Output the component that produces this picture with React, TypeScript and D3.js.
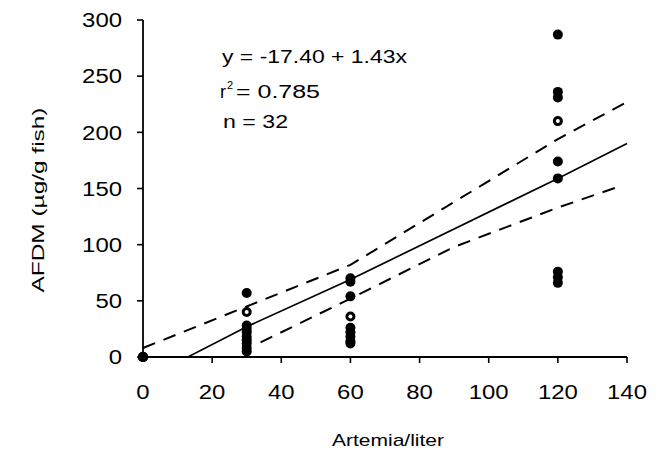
import React from "react";
import * as d3 from "d3";

// ---- data ----
const xTicks = [0, 20, 40, 60, 80, 100, 120, 140];
const yTicks = [0, 50, 100, 150, 200, 250, 300];

const pointX = [0, 0, 0, 0,
  30, 30, 30, 30, 30, 30, 30, 30, 30, 30,
  60, 60, 60, 60, 60, 60, 60, 60, 60,
  120, 120, 120, 120, 120, 120, 120, 120, 120];
const pointY = [0, 0, 0, 0,
  57, 40, 28, 25, 22, 18, 15, 12, 8, 5,
  70, 67, 54, 36, 26, 22, 18, 14, 12,
  287, 236, 231, 210, 174, 159, 76, 71, 66];
const pointHollow = [0, 0, 0, 0,
  0, 1, 0, 0, 0, 0, 0, 0, 0, 0,
  0, 0, 0, 1, 0, 0, 0, 0, 0,
  0, 0, 0, 1, 0, 0, 0, 0, 0];

const fitX = [0, 13, 30, 60, 120, 140];
const fitY = [0, 0, 27, 69, 159, 190];
const upperX = [0, 30, 60, 90, 120, 140];
const upperY = [8, 45, 82, 138, 194, 227];
const lowerX = [34, 60, 90, 120, 137];
const lowerY = [13, 52, 98, 133, 151];

const eqText = "y = -17.40 + 1.43x";
const r2Text = "= 0.785";
const nText = "n = 32";
const xTitle = "Artemia/liter";
const yTitle = "AFDM (µg/g fish)";

export default function App() {
  const W = 664, H = 452;
  const x = d3.scaleLinear().domain([0, 140]).range([143, 627]);
  const y = d3.scaleLinear().domain([0, 300]).range([357, 20]);
  const line = d3.line<[number, number]>().x(d => x(d[0])).y(d => y(d[1]));
  const fit = line(fitX.map((v, i) => [v, fitY[i]]))!;
  const up = line(upperX.map((v, i) => [v, upperY[i]]))!;
  const lo = line(lowerX.map((v, i) => [v, lowerY[i]]))!;
  const font = "'Liberation Sans', Arial, Helvetica, sans-serif";
  const digitW = 13.3;

  return (
    <svg width={W} height={H} style={{ position: "absolute", left: 0, top: 0, background: "#fff" }}
      fontFamily={font}>
      <rect x={0} y={0} width={W} height={H} fill="#fff" />
      {/* axes */}
      <line x1={x(0)} x2={x(0)} y1={y(0)} y2={y(300)} stroke="#000" strokeWidth={1.8} />
      <line x1={x(0)} x2={x(140)} y1={y(0)} y2={y(0)} stroke="#000" strokeWidth={1.8} />
      {yTicks.map(t => (
        <g key={"y" + t}>
          <line x1={x(0) - 6} x2={x(0)} y1={y(t)} y2={y(t)} stroke="#000" strokeWidth={1.6} />
          <text x={122} y={y(t)} dy="0.36em" textAnchor="end" fontSize={20}
            textLength={String(t).length * digitW} lengthAdjust="spacingAndGlyphs">{t}</text>
        </g>
      ))}
      {xTicks.map(t => (
        <g key={"x" + t}>
          {t > 0 && <line x1={x(t)} x2={x(t)} y1={y(0)} y2={y(0) + 6} stroke="#000" strokeWidth={1.6} />}
          <text x={x(t)} y={399} textAnchor="middle" fontSize={20}
            textLength={String(t).length * digitW} lengthAdjust="spacingAndGlyphs">{t}</text>
        </g>
      ))}
      {/* regression and confidence lines */}
      <path d={fit} fill="none" stroke="#000" strokeWidth={1.7} />
      <path d={up} fill="none" stroke="#000" strokeWidth={2} strokeDasharray="13 9" />
      <path d={lo} fill="none" stroke="#000" strokeWidth={2} strokeDasharray="13 9" />
      {/* points */}
      {pointX.map((px, i) => (
        <g key={"p" + i}>
          <circle cx={x(px)} cy={y(pointY[i])} r={5} fill="#000" />
          {pointHollow[i] ? <circle cx={x(px)} cy={y(pointY[i])} r={2} fill="#fff" /> : null}
        </g>
      ))}
      {/* equation text */}
      <text x={222} y={63} fontSize={18} textLength={185} lengthAdjust="spacingAndGlyphs">{eqText}</text>
      <text x={220} y={98} fontSize={18}>r</text>
      <text x={227} y={89} fontSize={11}>2</text>
      <text x={236} y={98} fontSize={18} textLength={84} lengthAdjust="spacingAndGlyphs">{r2Text}</text>
      <text x={223} y={128} fontSize={18} textLength={65} lengthAdjust="spacingAndGlyphs">{nText}</text>
      {/* axis titles */}
      <text x={388} y={446} textAnchor="middle" fontSize={17}
        textLength={112} lengthAdjust="spacingAndGlyphs">{xTitle}</text>
      <text transform={`translate(44,${200}) rotate(-90)`} textAnchor="middle" fontSize={17}
        textLength={185} lengthAdjust="spacingAndGlyphs">{yTitle}</text>
    </svg>
  );
}
